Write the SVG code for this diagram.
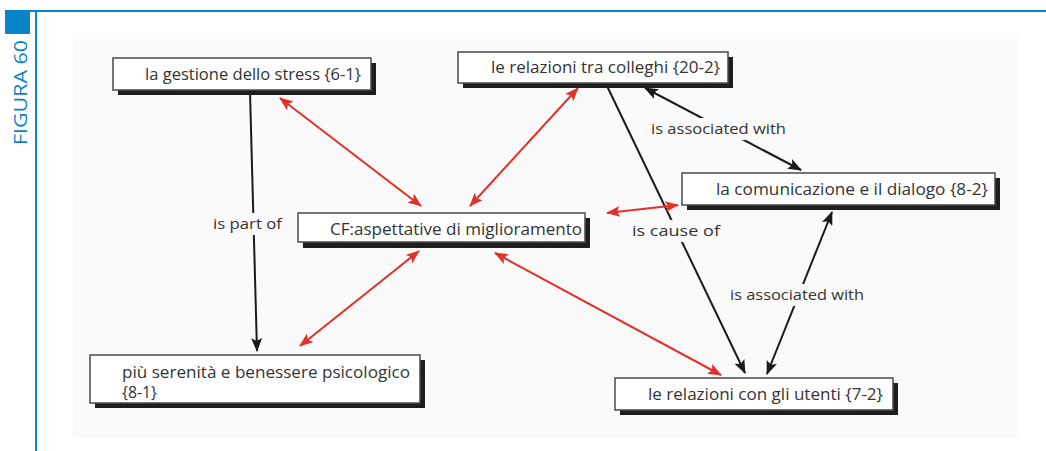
<svg xmlns="http://www.w3.org/2000/svg" width="1046" height="451" viewBox="0 0 1046 451">
  <style>
    .frame { stroke: #0a84c8; stroke-width: 2; fill: none; }
    .box { fill: #ffffff; stroke: #4a4a4a; stroke-width: 1.5; }
    .shadow { fill: #1e1e1e; }
    .label { font-family: "Open Sans", "Noto Sans", "Liberation Sans", sans-serif; font-size: 16px; fill: #333333; }
    .elabel { font-family: "Open Sans", "Noto Sans", "Liberation Sans", sans-serif; font-size: 15px; fill: #333333; }
    .lbg { fill: #fafafa; }
    .black { stroke: #1a1a1a; stroke-width: 2; fill: none; }
    .red { stroke: #e2302a; stroke-width: 2; fill: none; }
  </style>
  <defs>
    <marker id="arrowBlack" viewBox="0 0 14 11" refX="13" refY="5.5" markerWidth="14" markerHeight="11" markerUnits="userSpaceOnUse" orient="auto-start-reverse">
      <path d="M0,0 L14,5.5 L0,11 L3,5.5 Z" fill="#1a1a1a"/>
    </marker>
    <marker id="arrowRed" viewBox="0 0 14 11" refX="13" refY="5.5" markerWidth="14" markerHeight="11" markerUnits="userSpaceOnUse" orient="auto-start-reverse">
      <path d="M0,0 L14,5.5 L0,11 L3,5.5 Z" fill="#e2302a"/>
    </marker>
  </defs>

  <!-- page frame -->
  <rect x="0" y="0" width="1046" height="451" fill="#ffffff"/>
  <line class="frame" x1="5" y1="11" x2="1046" y2="11"/>
  <line class="frame" x1="36" y1="11" x2="36" y2="451"/>
  <rect x="5" y="11" width="25" height="23" fill="#0a84c8"/>
  <text x="0" y="0" transform="translate(27,145) rotate(-90)" font-family="Open Sans, Noto Sans, Liberation Sans, sans-serif" font-size="19" fill="#0a84c8" textLength="105" lengthAdjust="spacingAndGlyphs">FIGURA 60</text>

  <!-- diagram area -->
  <rect x="73" y="33" width="946" height="405" fill="#fafafa"/>

  <g id="connectors">
    <!-- black relations -->
    <line class="black" x1="250" y1="92" x2="257" y2="351" marker-end="url(#arrowBlack)"/>
    <line class="black" x1="645" y1="88" x2="801" y2="170" marker-start="url(#arrowBlack)" marker-end="url(#arrowBlack)"/>
    <line class="black" x1="607" y1="86" x2="745" y2="373" marker-end="url(#arrowBlack)"/>
    <line class="black" x1="767" y1="374" x2="832" y2="212" marker-start="url(#arrowBlack)" marker-end="url(#arrowBlack)"/>
    <circle cx="250" cy="91" r="3" fill="#1a1a1a"/>

    <!-- red links to the central node -->
    <line class="red" x1="280" y1="98" x2="421" y2="206" marker-start="url(#arrowRed)" marker-end="url(#arrowRed)"/>
    <line class="red" x1="578" y1="88" x2="470" y2="206" marker-start="url(#arrowRed)" marker-end="url(#arrowRed)"/>
    <line class="red" x1="607" y1="213" x2="678" y2="205" marker-start="url(#arrowRed)" marker-end="url(#arrowRed)"/>
    <line class="red" x1="419" y1="251" x2="300" y2="346" marker-start="url(#arrowRed)" marker-end="url(#arrowRed)"/>
    <line class="red" x1="495" y1="253" x2="721" y2="375" marker-start="url(#arrowRed)" marker-end="url(#arrowRed)"/>

    <!-- relation labels -->
    <rect class="lbg" x="211" y="213" width="73" height="22"/>
    <text class="elabel" x="213" y="229" textLength="69" lengthAdjust="spacingAndGlyphs">is part of</text>
    <rect class="lbg" x="649" y="118" width="139" height="22"/>
    <text class="elabel" x="651" y="134" textLength="135" lengthAdjust="spacingAndGlyphs">is associated with</text>
    <rect class="lbg" x="630" y="220" width="92" height="22"/>
    <text class="elabel" x="632" y="236" textLength="88" lengthAdjust="spacingAndGlyphs">is cause of</text>
    <rect class="lbg" x="728" y="284" width="138" height="22"/>
    <text class="elabel" x="730" y="300" textLength="134" lengthAdjust="spacingAndGlyphs">is associated with</text>
  </g>

  <g id="node-stress">
    <rect class="shadow" x="118" y="63" width="258" height="32"/>
    <rect class="box" x="113" y="58" width="258" height="32"/>
    <text class="label" x="145" y="80" textLength="216" lengthAdjust="spacingAndGlyphs">la gestione dello stress {6-1}</text>
  </g>

  <g id="node-colleghi">
    <rect class="shadow" x="463" y="57" width="270" height="31"/>
    <rect class="box" x="458" y="52" width="270" height="31"/>
    <text class="label" x="491" y="73" textLength="229" lengthAdjust="spacingAndGlyphs">le relazioni tra colleghi {20-2}</text>
  </g>

  <g id="node-cf">
    <rect class="shadow" x="303" y="218" width="287" height="30"/>
    <rect class="box" x="298" y="213" width="287" height="29"/>
    <text class="label" x="330" y="235" textLength="252" lengthAdjust="spacingAndGlyphs">CF:aspettative di miglioramento</text>
  </g>

  <g id="node-comunicazione">
    <rect class="shadow" x="687" y="178" width="313" height="32"/>
    <rect class="box" x="682" y="173" width="313" height="32"/>
    <text class="label" x="716" y="195" textLength="272" lengthAdjust="spacingAndGlyphs">la comunicazione e il dialogo {8-2}</text>
  </g>

  <g id="node-serenita">
    <rect class="shadow" x="95" y="360" width="330" height="48"/>
    <rect class="box" x="90" y="355" width="330" height="48"/>
    <text class="label" x="122" y="378" textLength="288" lengthAdjust="spacingAndGlyphs">più serenità e benessere psicologico</text>
    <text class="label" x="122" y="398" textLength="35" lengthAdjust="spacingAndGlyphs">{8-1}</text>
  </g>

  <g id="node-utenti">
    <rect class="shadow" x="620" y="383" width="278" height="32"/>
    <rect class="box" x="615" y="378" width="278" height="32"/>
    <text class="label" x="648" y="400" textLength="235" lengthAdjust="spacingAndGlyphs">le relazioni con gli utenti {7-2}</text>
  </g>
</svg>
